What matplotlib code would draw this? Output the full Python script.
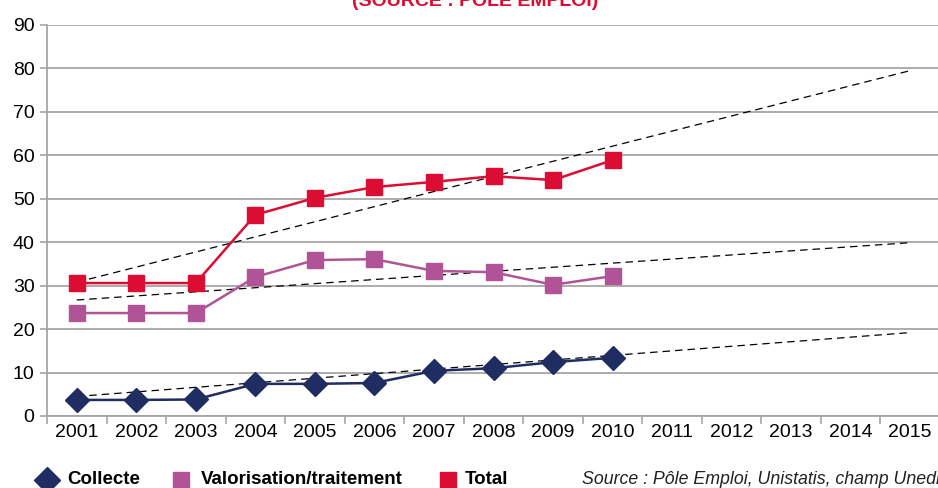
import numpy as np
import matplotlib.pyplot as plt
from matplotlib.lines import Line2D

# Years on the category axis
years = [str(y) for y in range(2001, 2016)]

# Series values (2001-2010)
collecte = [3.7, 3.7, 3.8, 7.4, 7.4, 7.6, 10.4, 11.0, 12.4, 13.4]
valorisation = [23.7, 23.7, 23.7, 32.0, 35.9, 36.1, 33.4, 33.1, 30.2, 32.2]
total = [30.6, 30.6, 30.6, 46.3, 50.2, 52.7, 53.9, 55.2, 54.3, 58.9]

# Linear trend lines: value at 2001 and at 2015
trend_collecte = [4.5, 19.2]
trend_valorisation = [26.7, 39.9]
trend_total = [30.8, 79.5]

legend_labels = ['Collecte', 'Valorisation/traitement', 'Total']

c_collecte = '#1F2D63'
c_valo = '#B05497'
c_total = '#DC0D32'

plt.rcParams['font.family'] = ['Liberation Sans', 'DejaVu Sans']

W, H = 938, 488
fig = plt.figure(figsize=(W / 100, H / 100), dpi=100)
ax = fig.add_axes([47 / W, 72 / H, 893 / W, 391 / H])

x = np.arange(len(collecte))
ends = [0, len(years) - 1]

for tr in (trend_total, trend_valorisation, trend_collecte):
    ax.plot(ends, tr, color='black', lw=0.9, ls=(0, (6, 4)), zorder=2)

ax.plot(x, total, color=c_total, lw=1.8, marker='s', ms=12, zorder=3)
ax.plot(x, valorisation, color=c_valo, lw=1.8, marker='s', ms=12, zorder=3)
ax.plot(x, collecte, color=c_collecte, lw=1.8, marker='D', ms=12.5, zorder=4)

ax.set_xlim(-0.5, len(years) - 0.5)
ax.set_ylim(0, 90)
ax.set_yticks(range(0, 91, 10))
ax.set_xticks(range(len(years)))
ax.set_xticklabels(years)
ax.set_xticks(np.arange(-0.5, len(years), 1), minor=True)
ax.tick_params(axis='x', which='major', length=0, labelsize=14, pad=6)
ax.tick_params(axis='x', which='minor', length=6, color='#A6A6A6', width=1.2)
ax.tick_params(axis='y', length=5, color='#A6A6A6', width=1.2, labelsize=14, pad=4)
ax.grid(axis='y', color='#A6A6A6', lw=1.3)
ax.set_axisbelow(True)
for s in ('top', 'right'):
    ax.spines[s].set_visible(False)
for s in ('left', 'bottom'):
    ax.spines[s].set_color('#A6A6A6')
    ax.spines[s].set_linewidth(1.3)

# title, cut at top of the picture
fig.text(0.506, 1 - 10 / H, '(SOURCE : PÔLE EMPLOI)', color=c_total,
         fontsize=14, fontweight='bold', ha='center', va='bottom')

# legend drawn by hand at the bottom
ly = 1 - 480 / H
markers = [('D', 13, c_collecte), ('s', 12, c_valo), ('s', 12, c_total)]
mark_x = [47, 181, 448]
text_x = [67, 201, 465]
for (m, ms, c), mx, tx, lab in zip(markers, mark_x, text_x, legend_labels):
    fig.add_artist(Line2D([mx / W], [ly], transform=fig.transFigure, ls='none',
                          marker=m, ms=ms, color=c))
    fig.text(tx / W, ly, lab, fontsize=13.5, fontweight='bold', ha='left', va='center')

fig.text(582 / W, ly, 'Source : Pôle Emploi, Unistatis, champ Unedic',
         fontsize=12.8, style='italic', ha='left', va='center', color='#222222')

fig.savefig('out.png', dpi=100)
